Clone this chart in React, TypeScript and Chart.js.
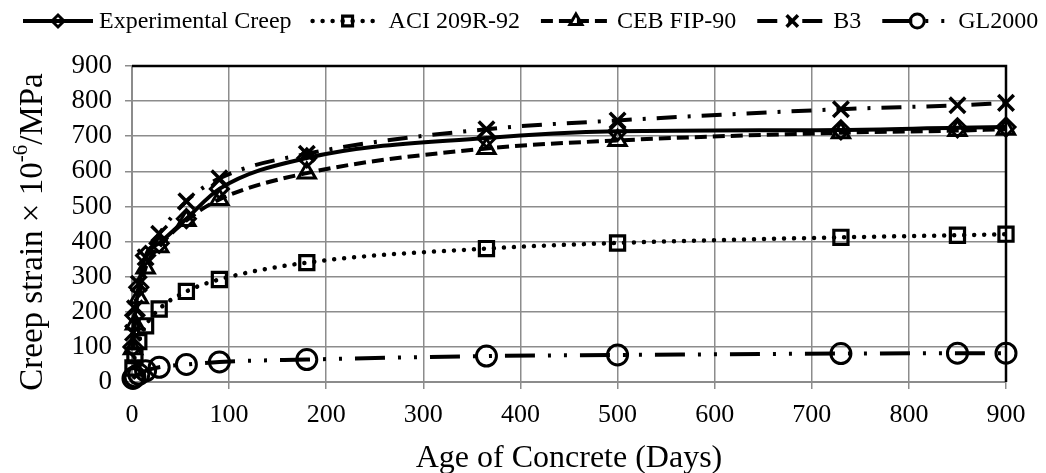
import React, { useEffect, useRef } from "react";
import { Chart, registerables } from "chart.js";
import { drawPoint } from "chart.js/helpers";

Chart.register(...registerables);

const days = [1, 3, 7, 14, 28, 56, 90, 180, 365, 500, 730, 850, 900];
const experimental = [100, 190, 270, 360, 395, 465, 550, 638, 695, 714, 718, 724, 726];
const aci = [40, 75, 115, 160, 208, 258, 292, 340, 380, 396, 412, 418, 421];
const ceb = [95, 165, 240, 325, 385, 460, 520, 595, 665, 688, 710, 716, 720];
const b3 = [140, 210, 280, 355, 422, 515, 580, 650, 720, 745, 777, 788, 795];
const gl2000 = [10, 15, 22, 32, 42, 50, 57, 64, 74, 77, 81, 82, 82];

const seriesNames = ["Experimental Creep", "ACI 209R-92", "CEB FIP-90", "B3", "GL2000"];
const xTitle = "Age of Concrete (Days)";

const FONT = "'Liberation Serif', 'Times New Roman', serif";

type Style = {
  pointStyle: any;
  radius: number;
  pw: number;
  dash: number[];
  lw: number;
  cap: CanvasLineCap;
};

const styles: Style[] = [
  { pointStyle: "rectRot", radius: 9, pw: 3, dash: [], lw: 4, cap: "butt" },
  { pointStyle: "rect", radius: 10, pw: 3.2, dash: [0.01, 10], lw: 4.5, cap: "round" },
  { pointStyle: "triangle", radius: 10, pw: 3, dash: [12, 6], lw: 4, cap: "butt" },
  { pointStyle: "crossRot", radius: 11, pw: 3.5, dash: [20, 11, 3, 11], lw: 4, cap: "butt" },
  { pointStyle: "circle", radius: 10, pw: 3, dash: [30, 13, 3, 13, 3, 13], lw: 4, cap: "butt" },
];

const legendPlugin = {
  id: "customLegend",
  afterDraw(chart: any) {
    const ctx = chart.ctx as CanvasRenderingContext2D;
    ctx.save();
    ctx.font = `24px ${FONT}`;
    ctx.fillStyle = "#000";
    ctx.textBaseline = "middle";
    const lineLen = 70;
    const gapAfterLine = 6;
    const itemGap = 21;
    const widths = seriesNames.map((n) => ctx.measureText(n).width);
    let x = 23;
    const y = 21;
    seriesNames.forEach((name, i) => {
      const s = styles[i];
      ctx.save();
      ctx.strokeStyle = "#000";
      ctx.lineWidth = s.lw;
      ctx.lineCap = s.cap;
      ctx.setLineDash(s.dash);
      ctx.beginPath();
      ctx.moveTo(x, y);
      ctx.lineTo(x + lineLen, y);
      ctx.stroke();
      ctx.setLineDash([]);
      ctx.lineWidth = s.pw;
      ctx.fillStyle = "rgba(0,0,0,0)";
      drawPoint(ctx, { pointStyle: s.pointStyle, radius: s.radius - 3, borderWidth: s.pw, rotation: 0 } as any, x + lineLen / 2, y);
      ctx.restore();
      ctx.fillStyle = "#000";
      ctx.fillText(name, x + lineLen + gapAfterLine, y + 1);
      x += lineLen + gapAfterLine + widths[i] + itemGap;
    });
    ctx.restore();
  },
};

const borderPlugin = {
  id: "plotBorder",
  beforeDatasetsDraw(chart: any) {
    const { ctx, chartArea } = chart;
    ctx.save();
    ctx.strokeStyle = "#000";
    ctx.lineWidth = 2.5;
    ctx.beginPath();
    ctx.moveTo(chartArea.left, chartArea.top);
    ctx.lineTo(chartArea.right, chartArea.top);
    ctx.lineTo(chartArea.right, chartArea.bottom);
    ctx.stroke();
    ctx.restore();
  },
};

const yTitlePlugin = {
  id: "yTitle",
  afterDraw(chart: any) {
    const ctx = chart.ctx as CanvasRenderingContext2D;
    const { chartArea } = chart;
    const main = `33px ${FONT}`;
    const sup = `21px ${FONT}`;
    const parts: [string, string, number][] = [
      ["Creep strain \u00d7 10", main, 0],
      ["-6", sup, -12],
      ["/MPa", main, 0],
    ];
    ctx.save();
    let total = 0;
    const ws = parts.map(([t, f]) => {
      ctx.font = f;
      const w = ctx.measureText(t).width;
      total += w;
      return w;
    });
    const cx = 31;
    const cy = (chartArea.top + chartArea.bottom) / 2 + 8;
    ctx.translate(cx, cy);
    ctx.rotate(-Math.PI / 2);
    ctx.fillStyle = "#000";
    ctx.textBaseline = "middle";
    let x = -total / 2;
    parts.forEach(([t, f, dy], i) => {
      ctx.font = f;
      ctx.fillText(t, x, 2 + dy);
      x += ws[i];
    });
    ctx.restore();
  },
};

export default function App() {
  const ref = useRef<HTMLCanvasElement>(null);
  useEffect(() => {
    if (!ref.current) return;
    const all = [experimental, aci, ceb, b3, gl2000];
    const chart = new Chart(ref.current, {
      type: "line",
      data: {
        datasets: all.map((vals, i) => ({
          label: seriesNames[i],
          data: days.map((d, j) => ({ x: d, y: vals[j] })),
          borderColor: "#000",
          borderWidth: styles[i].lw,
          borderDash: styles[i].dash,
          borderCapStyle: styles[i].cap,
          cubicInterpolationMode: "monotone" as const,
          pointStyle: styles[i].pointStyle,
          pointRadius: styles[i].radius,
          pointBorderWidth: styles[i].pw,
          pointBorderColor: "#000",
          pointBackgroundColor: "rgba(0,0,0,0)",
          fill: false,
          clip: false as any,
        })),
      },
      options: {
        animation: false,
        responsive: true,
        maintainAspectRatio: false,
        layout: { padding: { top: 66, right: 40, left: 0, bottom: 0 } },
        plugins: { legend: { display: false }, tooltip: { enabled: false } },
        scales: {
          x: {
            type: "linear",
            min: 0,
            max: 900,
            afterFit: (s: any) => {
              s.height = 91;
            },
            ticks: {
              stepSize: 100,
              autoSkip: false,
              color: "#000",
              font: { family: FONT, size: 26 },
              padding: 11,
              maxRotation: 0,
            },
            grid: { color: "#8c8c8c", lineWidth: 1.5, tickLength: 7, tickColor: "#8c8c8c" },
            border: { color: "#8c8c8c", width: 2 },
            title: {
              display: true,
              text: xTitle,
              color: "#000",
              font: { family: FONT, size: 32, lineHeight: 0.9 },
              padding: { top: 0, bottom: 0 },
            },
          },
          y: {
            min: 0,
            max: 900,
            afterFit: (s: any) => {
              s.width = 132;
            },
            ticks: {
              stepSize: 100,
              autoSkip: false,
              color: "#000",
              font: { family: FONT, size: 27 },
              padding: 13,
            },
            grid: { color: "#8c8c8c", lineWidth: 1.5, tickLength: 7, tickColor: "#8c8c8c" },
            border: { color: "#8c8c8c", width: 2 },
          },
        },
      },
      plugins: [legendPlugin, borderPlugin, yTitlePlugin],
    });
    return () => chart.destroy();
  }, []);
  return (
    <div style={{ position: "fixed", left: 0, top: 0, width: 1046, height: 473, background: "#fff" }}>
      <canvas ref={ref} />
    </div>
  );
}
